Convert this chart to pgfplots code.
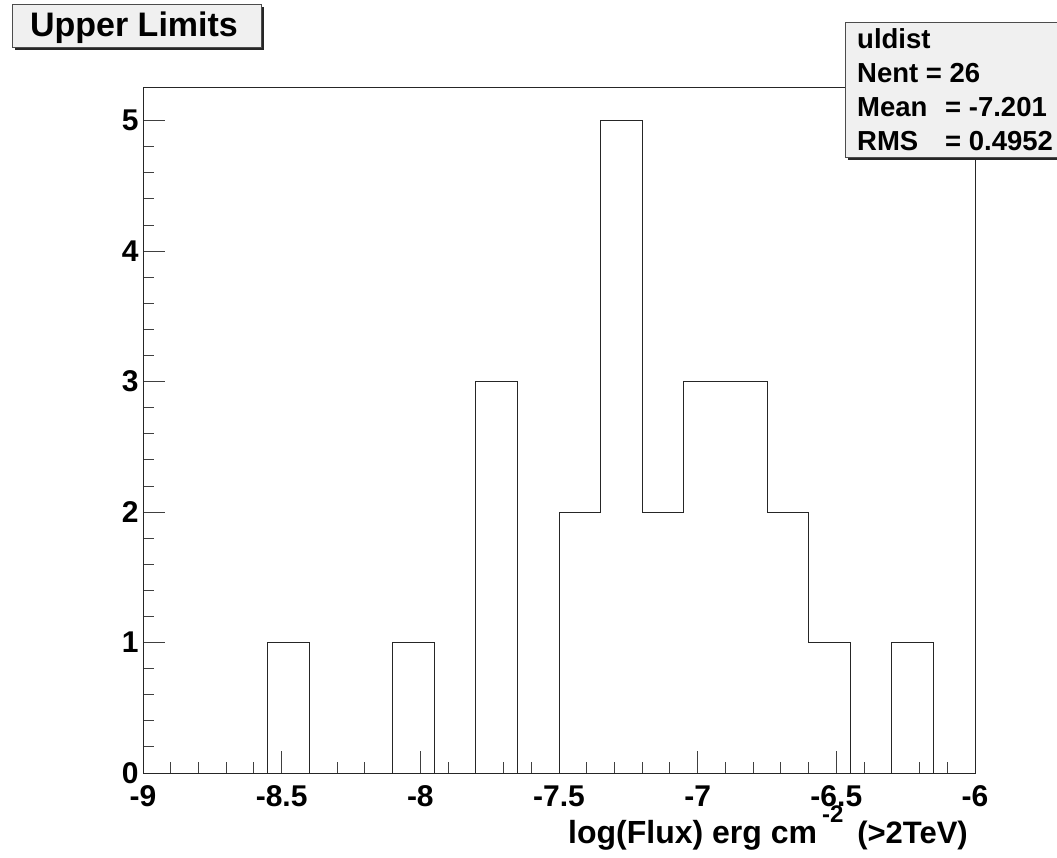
\documentclass[border=0pt]{standalone}
\usepackage{fontspec}
\setmainfont{Liberation Sans}
\usepackage{pgfplots}
\pgfplotsset{compat=1.18}
\newcommand{\rf}{\bfseries\fontsize{30}{36}\selectfont}
\newcommand{\stf}{\bfseries\fontsize{27.5}{33}\selectfont}
\definecolor{boxgray}{HTML}{F0F0F0}
\begin{document}
\begin{tikzpicture}[x=1pt,y=1pt]
\useasboundingbox (0,0) rectangle (1057,857);
\begin{axis}[at={(143pt,84pt)}, anchor=south west,
  width=832pt, height=685pt, scale only axis,
  xmin=-9, xmax=-6, ymin=0, ymax=5.25,
  xtick={-9,-8.5,-8,-7.5,-7,-6.5,-6},
  ytick={0,1,2,3,4,5},
  minor x tick num=4, minor y tick num=4,
  tick align=inside, xtick pos=left, ytick pos=left,
  major tick length=22pt, minor tick length=11pt,
  axis line style={line width=1pt, black!85},
  every tick/.style={line width=0.9pt, black!75},
  /pgf/number format/assume math mode=true,
  ticklabel style={font=\rf},
  xticklabel style={yshift=-9pt},
  yticklabel style={xshift=-1pt},
  clip=false]
\addplot[const plot, black!85, line width=1pt] coordinates {
(-9,0) (-8.85,0) (-8.7,0) (-8.55,1) (-8.4,0) (-8.25,0) (-8.1,1) (-7.95,0)
(-7.8,3) (-7.65,0) (-7.5,2) (-7.35,5) (-7.2,2) (-7.05,3) (-6.9,3) (-6.75,2)
(-6.6,1) (-6.45,0) (-6.3,1) (-6.15,0) (-6,0)};
\end{axis}
% x label
\node[anchor=base west, inner sep=0, font=\bfseries\fontsize{32}{38}\selectfont] at (568,14) {log(Flux) erg cm};
\node[anchor=base east, inner sep=0, font=\bfseries\fontsize{31}{38}\selectfont] at (968,14) {(>2TeV)};
\node[anchor=base west, inner sep=0, font=\bfseries\fontsize{24}{28}\selectfont] at (822,35) {-2};
\begin{scope}
\clip (0,0) rectangle (1057,857);
% title box
\fill[black!85] (15,807) rectangle (264,850);
\draw[black!70, fill=boxgray, line width=0.8pt] (12,810) rectangle (261,853);
\node[anchor=base, inner sep=0, font=\bfseries\fontsize{34}{40}\selectfont] at (134,820) {Upper Limits};
% stats box
\fill[black!85] (848,697) rectangle (1070,832);
\draw[black!70, fill=boxgray, line width=0.8pt] (845,700) rectangle (1067,835);
\node[anchor=base west, inner sep=0, font=\stf] at (857,808) {uldist};
\node[anchor=base west, inner sep=0, font=\stf] at (857,774) {Nent = 26};
\node[anchor=base west, inner sep=0, font=\stf] at (857,740) {Mean};
\node[anchor=base west, inner sep=0, font=\stf] at (945,740) {= -7.201};
\node[anchor=base west, inner sep=0, font=\stf] at (857,706) {RMS};
\node[anchor=base west, inner sep=0, font=\stf] at (945,706) {= 0.4952};
\end{scope}
\end{tikzpicture}
\end{document}
